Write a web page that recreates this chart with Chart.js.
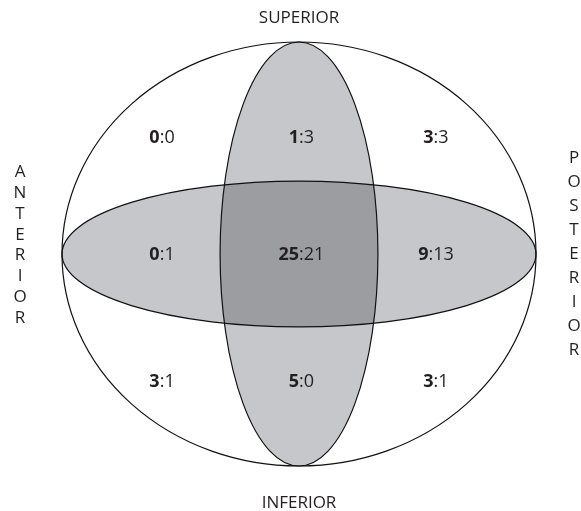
<!DOCTYPE html>
<html>
<head>
<meta charset="utf-8">
<script src="https://cdn.jsdelivr.net/npm/chart.js@4"></script>
<style>
  html, body { margin: 0; padding: 0; background: #fff; }
  #wrap { width: 581px; height: 511px; position: relative; }
</style>
</head>
<body>
<div id="wrap"><canvas id="vennChart"></canvas></div>
<script>
// regions, row by row (superior / middle / inferior), anterior -> posterior
const rows = ['superior', 'middle', 'inferior'];
const cols = ['anterior', 'center', 'posterior'];
const boldCounts = [0, 1, 3, 0, 25, 9, 3, 5, 3];
const plainCounts = [0, 3, 3, 1, 21, 13, 1, 0, 1];
const axisTitles = ['SUPERIOR', 'INFERIOR', 'ANTERIOR', 'POSTERIOR'];

// layout in scale units (outer ellipse = radius 1)
const colPos = [-0.578, 0.01, 0.578];
const rowPos = [0.55, -0.005, -0.605];
const shapes = {
  outer: { rx: 1, ry: 1 },
  vertical: { rx: 0.333, ry: 1 },
  horizontal: { rx: 1, ry: 0.344 }
};

const lightGray = '#c6c7ca';
const darkGray = '#9c9da0';
const ink = '#231f20';
const fontFamily = "'Open Sans', 'DejaVu Sans', sans-serif";

const points = [];
rows.forEach((r, i) => {
  cols.forEach((c, j) => {
    points.push({ x: colPos[j], y: rowPos[i] });
  });
});

function ellipsePath(ctx, chart, s) {
  const xs = chart.scales.x, ys = chart.scales.y;
  const cx = xs.getPixelForValue(0), cy = ys.getPixelForValue(0);
  const rx = Math.abs(xs.getPixelForValue(s.rx) - cx);
  const ry = Math.abs(ys.getPixelForValue(s.ry) - cy);
  ctx.beginPath();
  ctx.ellipse(cx, cy, rx, ry, 0, 0, Math.PI * 2);
}

const vennPlugin = {
  id: 'venn',
  beforeDatasetsDraw(chart) {
    const ctx = chart.ctx;
    ctx.save();
    ellipsePath(ctx, chart, shapes.outer);
    ctx.fillStyle = '#fff';
    ctx.fill();

    ellipsePath(ctx, chart, shapes.horizontal);
    ctx.fillStyle = lightGray;
    ctx.fill();
    ellipsePath(ctx, chart, shapes.vertical);
    ctx.fill();

    // overlap
    ctx.save();
    ellipsePath(ctx, chart, shapes.horizontal);
    ctx.clip();
    ellipsePath(ctx, chart, shapes.vertical);
    ctx.fillStyle = darkGray;
    ctx.fill();
    ctx.restore();

    ctx.strokeStyle = '#111';
    ctx.lineWidth = 1.2;
    [shapes.outer, shapes.horizontal, shapes.vertical].forEach(s => {
      ellipsePath(ctx, chart, s);
      ctx.stroke();
    });
    ctx.restore();
  },
  afterDatasetsDraw(chart) {
    const ctx = chart.ctx;
    const meta = chart.getDatasetMeta(0);
    ctx.save();
    ctx.fillStyle = ink;
    ctx.textBaseline = 'middle';
    meta.data.forEach((pt, i) => {
      const b = String(boldCounts[i]);
      const p = ':' + plainCounts[i];
      ctx.font = `bold 18px ${fontFamily}`;
      const wb = ctx.measureText(b).width;
      ctx.font = `18px ${fontFamily}`;
      const wp = ctx.measureText(p).width;
      const x0 = pt.x - (wb + wp) / 2;
      ctx.textAlign = 'left';
      ctx.font = `bold 18px ${fontFamily}`;
      ctx.fillText(b, x0, pt.y);
      ctx.font = `18px ${fontFamily}`;
      ctx.fillText(p, x0 + wb, pt.y);
    });

    // orientation titles
    const xs = chart.scales.x, ys = chart.scales.y;
    const cx = xs.getPixelForValue(0);
    ctx.font = `17px ${fontFamily}`;
    ctx.textAlign = 'center';
    ctx.fillText(axisTitles[0], cx, ys.getPixelForValue(1) - 24);
    ctx.fillText(axisTitles[1], cx, ys.getPixelForValue(-1) + 37);

    const drawVertical = (word, x, yTop, step) => {
      word.split('').forEach((ch, k) => ctx.fillText(ch, x, yTop + k * step));
    };
    drawVertical(axisTitles[2], xs.getPixelForValue(-1) - 42, 172, 20.9);
    drawVertical(axisTitles[3], xs.getPixelForValue(1) + 38, 158, 24);
    ctx.restore();
  }
};

new Chart(document.getElementById('vennChart'), {
  type: 'scatter',
  data: {
    datasets: [{
      label: 'regiones',
      data: points,
      pointRadius: 0,
      pointHoverRadius: 0
    }]
  },
  options: {
    responsive: true,
    maintainAspectRatio: false,
    animation: false,
    layout: {
      padding: { left: 62, right: 45, top: 42, bottom: 45 }
    },
    scales: {
      x: { type: 'linear', min: -1, max: 1, display: false },
      y: { type: 'linear', min: -1, max: 1, display: false }
    },
    plugins: {
      legend: { display: false },
      tooltip: { enabled: false }
    }
  },
  plugins: [vennPlugin]
});
</script>
</body>
</html>
